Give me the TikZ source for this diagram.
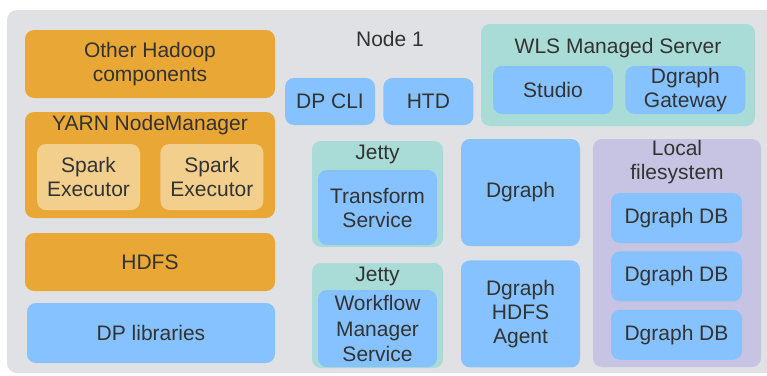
\documentclass[tikz,border=0pt]{standalone}
\usepackage{fontspec}
\setmainfont{Liberation Sans}
\usetikzlibrary{positioning}

\definecolor{bgray}{HTML}{DFE1E4}
\definecolor{hadoop}{HTML}{E9A736}
\definecolor{spark}{HTML}{F3CF8E}
\definecolor{dpblue}{HTML}{85C2FF}
\definecolor{jetty}{HTML}{A9DCD6}
\definecolor{localfs}{HTML}{C6C4E2}
\definecolor{ink}{HTML}{333333}

\begin{document}
\begin{tikzpicture}[x=1pt, y=-1pt,
    txt/.style = {font=\fontsize{21}{24}\selectfont, text=ink, align=center},
    box/.style = {txt, rounded corners=9pt, inner sep=0pt},
    orangebox/.style = {box, fill=hadoop},
    sparkbox/.style = {box, fill=spark, minimum width=103pt, minimum height=66pt},
    bluebox/.style = {box, fill=dpblue},
    tealbox/.style = {box, fill=jetty},
    lavbox/.style = {box, fill=localfs},
    dbbox/.style = {bluebox, minimum width=131pt, minimum height=50pt}]

    \useasboundingbox (0,0) rectangle (767,375);
    \fill[bgray, rounded corners=10pt] (7,10) rectangle (790,373);

    % Hadoop side
    \node[orangebox, minimum width=250pt, minimum height=68pt] (other) at (150,64) {Other Hadoop\\components};
    \node[orangebox, minimum width=250pt, minimum height=106pt] (yarn) at (150,165) {};
    \node[txt] (yarn-t) at (150,125) {YARN NodeManager};
    \node[sparkbox] (spark1) at (88.5,177) {Spark\\Executor};
    \node[sparkbox, right=20pt of spark1] (spark2) {Spark\\Executor};
    \node[orangebox, minimum width=250pt, minimum height=58pt] (hdfs) at (150,262) {HDFS};
    \node[bluebox, minimum width=248pt, minimum height=60pt] (dplib) at (151,333) {DP libraries};

    % Node 1 middle
    \node[txt] (node1) at (390,39) {Node 1};
    \node[bluebox, minimum width=90pt, minimum height=47pt] (dpcli) at (330,101.5) {DP CLI};
    \node[bluebox, minimum width=90pt, minimum height=47pt, right=8pt of dpcli] (htd) {HTD};

    \node[tealbox, minimum width=131pt, minimum height=106pt] (jetty1) at (377.5,194) {};
    \node[txt] (jetty1-t) at (377.5,154) {Jetty};
    \node[bluebox, minimum width=119pt, minimum height=75pt] (transform) at (377.5,207.5) {Transform\\Service};

    \node[tealbox, minimum width=131pt, minimum height=105pt] (jetty2) at (377.5,315.5) {};
    \node[txt] (jetty2-t) at (377.5,276) {Jetty};
    \node[bluebox, minimum width=119pt, minimum height=77pt,
          font=\fontsize{21}{25.5}\selectfont] (workflow) at (377.5,328.5) {Workflow\\Manager\\Service};

    % WLS and Dgraph
    \node[tealbox, minimum width=274pt, minimum height=102pt] (wls) at (618,75) {};
    \node[txt] (wls-t) at (618,48) {WLS Managed Server};
    \node[bluebox, minimum width=120pt, minimum height=48pt] (studio) at (553,90) {Studio};
    \node[bluebox, minimum width=120pt, minimum height=48pt, right=12pt of studio] (gateway) {Dgraph\\Gateway};

    \node[bluebox, minimum width=119pt, minimum height=107pt] (dgraph) at (520.5,192.5) {Dgraph};
    \node[bluebox, minimum width=119pt, minimum height=107pt, below=14pt of dgraph] (agent) {Dgraph\\HDFS\\Agent};

    \node[lavbox, minimum width=168pt, minimum height=228pt] (localfs) at (677,253) {};
    \node[txt] (localfs-t) at (677,162) {Local\\filesystem};
    \node[dbbox] (db1) at (676.5,218) {Dgraph DB};
    \node[dbbox, below=8pt of db1] (db2) {Dgraph DB};
    \node[dbbox, below=8pt of db2] (db3) {Dgraph DB};

\end{tikzpicture}
\end{document}
